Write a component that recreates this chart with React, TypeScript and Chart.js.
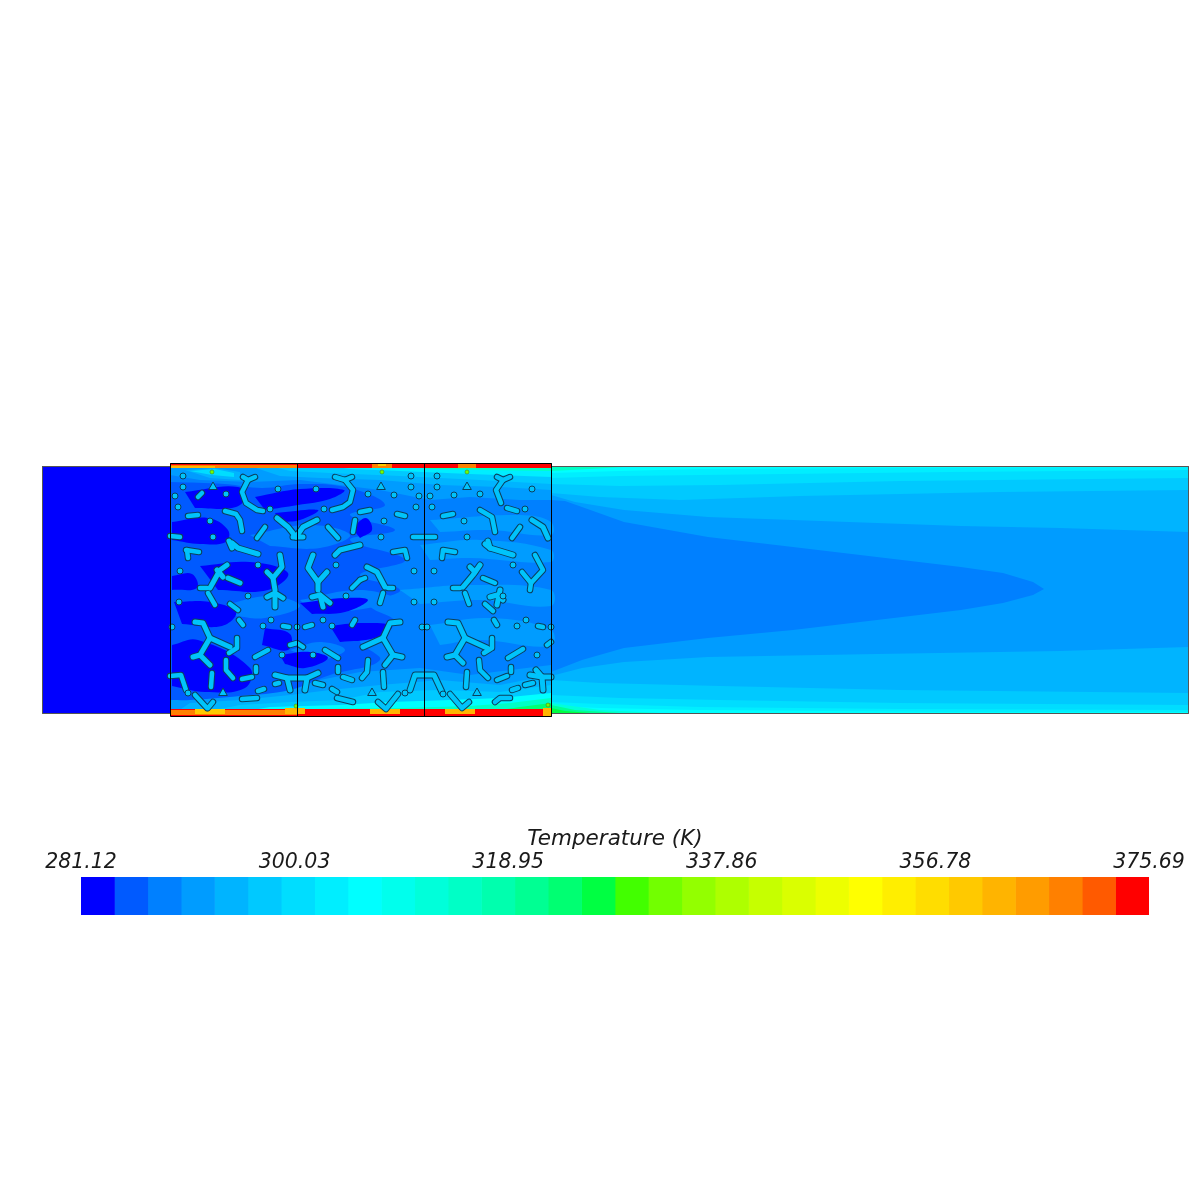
import React, { useEffect, useRef } from "react";
import { Chart, registerables } from "chart.js";

Chart.register(...registerables);

// 32 contour levels of the legend
const levelColors = [
  "#0000ff", "#005aff", "#0080ff", "#009cff", "#00b4ff", "#00c9ff", "#00ddff", "#00eeff",
  "#00ffff", "#00ffed", "#00ffda", "#00ffc6", "#00ffae", "#00ff93", "#00ff72", "#00ff42",
  "#42ff00", "#72ff00", "#93ff00", "#aeff00", "#c6ff00", "#daff00", "#edff00", "#ffff00",
  "#ffee00", "#ffdd00", "#ffc900", "#ffb400", "#ff9c00", "#ff8000", "#ff5a00", "#ff0000",
];
const levelEdges = [
  281.12, 284.08, 287.03, 289.99, 292.94, 295.9, 298.85, 301.81, 304.76, 307.72, 310.67,
  313.63, 316.58, 319.54, 322.49, 325.45, 328.41, 331.36, 334.32, 337.27, 340.23, 343.18,
  346.14, 349.09, 352.05, 355.0, 357.96, 360.91, 363.87, 366.82, 369.78, 372.73, 375.69,
];
const legendTicks = [281.12, 300.03, 318.95, 337.86, 356.78, 375.69];
const legendTitle = "Temperature (K)";

type Pts = number[][];
type Band = [number, Pts];

// Contours: [level, outline], back to front
const inletBands: Band[] = [[0, [[42, 466], [170, 466], [170, 713], [42, 713]]]];

const outletBands: Band[] = [
  [8, [[551, 466], [1188, 466], [1188, 713], [551, 713]]],
  [7, [[551, 473], [620, 471], [700, 469], [900, 468], [1188, 467], [1188, 712], [950, 712], [700, 710], [600, 708], [551, 706]]],
  [6, [[551, 478], [620, 476], [700, 475], [950, 472], [1188, 470], [1188, 710], [900, 709], [700, 707], [600, 704], [551, 702]]],
  [5, [[551, 484], [620, 486], [720, 485], [900, 481], [1188, 478], [1188, 705], [900, 703], [720, 700], [620, 698], [551, 695]]],
  [4, [[551, 493], [600, 497], [680, 500], [800, 496], [1000, 492], [1188, 490], [1188, 693], [900, 690], [720, 686], [600, 683], [551, 680]]],
  [3, [[551, 495], [575, 502], [624, 510], [708, 517], [793, 520], [877, 523], [961, 526], [1060, 528], [1188, 532], [1188, 647], [1060, 651], [877, 654], [708, 657], [624, 662], [582, 668], [551, 676]]],
  [2, [[551, 500], [565, 501], [582, 507], [624, 522], [708, 537], [793, 547], [877, 557], [961, 567], [1003, 573], [1033, 582], [1044, 589], [1033, 595], [1003, 603], [961, 610], [877, 620], [793, 630], [708, 638], [624, 648], [582, 660], [551, 672]]],
  [11, [[551, 466], [640, 466], [590, 469], [551, 471]]],
  [10, [[551, 713], [660, 713], [600, 710], [551, 703]]],
  [13, [[551, 713], [620, 713], [575, 710], [551, 705]]],
  [15, [[551, 713], [590, 713], [565, 711], [551, 708]]],
];

const porousWalls: Band[] = [
  [2, [[170, 466], [551, 466], [551, 713], [170, 713]]],
  // top wall layers
  [3, [[170, 466], [551, 466], [551, 500], [520, 500], [470, 497], [430, 500], [380, 490], [340, 485], [300, 480], [250, 482], [200, 480], [170, 475]]],
  [4, [[250, 466], [551, 466], [551, 490], [500, 487], [440, 485], [380, 480], [320, 478], [280, 476]]],
  [4, [[185, 470], [215, 468], [240, 472], [240, 480], [210, 478]]],
  [5, [[270, 466], [551, 466], [551, 484], [480, 480], [400, 476], [330, 473], [290, 471]]],
  [6, [[190, 471], [215, 469], [234, 473], [234, 477], [212, 475]]],
  [7, [[330, 466], [551, 466], [551, 477], [470, 474], [400, 471], [350, 469]]],
  [11, [[400, 466], [551, 466], [551, 471], [480, 470], [430, 469]]],
  // bottom wall layers
  [3, [[170, 713], [170, 700], [220, 697], [270, 690], [320, 680], [360, 672], [420, 668], [470, 675], [551, 665], [551, 713]]],
  [4, [[175, 713], [190, 703], [240, 700], [290, 695], [330, 690], [380, 685], [440, 680], [500, 685], [551, 675], [551, 713]]],
  [5, [[200, 713], [240, 705], [290, 702], [340, 700], [380, 692], [440, 690], [500, 692], [551, 685], [551, 713]]],
  [8, [[235, 713], [270, 707], [340, 705], [390, 702], [450, 700], [500, 698], [551, 693], [551, 713]]],
  [11, [[280, 713], [310, 709], [400, 708], [470, 706], [510, 703], [551, 698], [551, 713]]],
  [14, [[480, 713], [520, 707], [551, 703], [551, 713]]],
];

const porousPatches: Band[] = [
  // light wakes in the downstream third
  [3, [[430, 520], [520, 515], [551, 522], [551, 535], [490, 530], [440, 532]]],
  [3, [[420, 545], [480, 540], [551, 550], [551, 562], [470, 558], [430, 560]]],
  [3, [[400, 590], [470, 585], [551, 590], [551, 606], [480, 600], [420, 604]]],
  [3, [[430, 625], [490, 618], [551, 630], [551, 646], [480, 640], [440, 645]]],
  // cold core in the upstream half
  [1, [[171, 482], [225, 484], [262, 488], [300, 484], [350, 488], [385, 505], [350, 515], [395, 530], [350, 540], [405, 560], [360, 575], [400, 590], [370, 605], [395, 622], [360, 640], [380, 660], [330, 675], [290, 690], [240, 696], [190, 700], [171, 700]]],
  // warmer wakes inside the cold core
  [2, [[250, 535], [310, 525], [350, 535], [320, 548], [270, 546]]],
  [2, [[300, 600], [360, 590], [395, 600], [340, 612], [310, 610]]],
  [2, [[290, 650], [320, 642], [345, 650], [320, 662]]],
  [2, [[225, 605], [270, 596], [300, 606], [265, 618], [235, 616]]],
  // coldest patches
  [0, [[185, 492], [238, 487], [244, 500], [232, 508], [195, 508]]],
  [0, [[255, 497], [300, 489], [344, 490], [330, 499], [298, 505], [265, 510]]],
  [0, [[172, 522], [208, 518], [228, 530], [226, 542], [200, 544], [172, 540]]],
  [0, [[275, 513], [318, 510], [300, 520], [280, 522]]],
  [0, [[200, 566], [250, 562], [288, 573], [268, 590], [218, 590]]],
  [0, [[172, 576], [192, 574], [197, 588], [172, 590]]],
  [0, [[174, 602], [210, 602], [236, 612], [222, 626], [182, 624]]],
  [0, [[172, 645], [198, 640], [250, 668], [245, 688], [205, 692], [172, 686]]],
  [0, [[300, 603], [345, 598], [368, 600], [345, 612], [312, 614]]],
  [0, [[330, 626], [360, 623], [392, 626], [375, 638], [340, 642]]],
  [0, [[265, 628], [290, 634], [288, 650], [262, 645]]],
  [0, [[280, 655], [310, 652], [328, 658], [305, 668], [285, 664]]],
  [0, [[352, 528], [366, 518], [372, 530], [360, 538]]],
];

// Hot wall strips: top then bottom
const wallBands: Band[] = [
  [31, [[170, 463], [551, 463], [551, 468], [170, 468]]],
  [29, [[170, 465], [297, 465], [297, 468], [170, 468]]],
  [27, [[170, 466], [215, 466], [215, 468], [170, 468]]],
  [29, [[372, 463], [392, 463], [392, 468], [372, 468]]],
  [26, [[378, 463], [386, 463], [386, 466], [378, 466]]],
  [29, [[458, 464], [476, 464], [476, 468], [458, 468]]],
  [31, [[170, 709], [551, 709], [551, 716], [170, 716]]],
  [29, [[170, 710], [297, 710], [297, 715], [170, 715]]],
  [26, [[195, 709], [225, 709], [225, 714], [195, 714]]],
  [27, [[285, 708], [305, 708], [305, 714], [285, 714]]],
  [27, [[370, 709], [400, 709], [400, 714], [370, 714]]],
  [27, [[445, 709], [475, 709], [475, 714], [445, 714]]],
  [27, [[543, 708], [551, 708], [551, 716], [543, 716]]],
];

// Strand centre lines
const strandsWide: Pts[] = [
  [[232, 543], [238, 548], [258, 554]],
  [[229, 541], [232, 548]],
  [[277, 518], [288, 527], [296, 537], [303, 527], [317, 520]],
  [[293, 537], [303, 537]],
  [[280, 555], [282, 567], [273, 578], [267, 572]],
  [[273, 578], [275, 590]],
  [[313, 555], [308, 568], [318, 582], [327, 572]],
  [[318, 582], [318, 590]],
  [[335, 555], [340, 550], [360, 545]],
  [[210, 588], [220, 570], [227, 565]],
  [[217, 570], [223, 577]],
  [[228, 578], [240, 583]],
  [[195, 622], [203, 623], [210, 638], [230, 647]],
  [[210, 638], [200, 655], [193, 657]],
  [[200, 655], [210, 665]],
  [[275, 675], [287, 678], [307, 678], [318, 673]],
  [[287, 678], [290, 690]],
  [[307, 678], [305, 690]],
  [[267, 597], [275, 593], [283, 598]],
  [[275, 593], [275, 607]],
  [[312, 597], [320, 595], [330, 603]],
  [[320, 595], [323, 607]],
  [[367, 567], [377, 572], [385, 587]],
  [[463, 587], [473, 575], [480, 565]],
  [[470, 567], [475, 572]],
  [[485, 544], [490, 548], [513, 555]],
  [[488, 541], [490, 548]],
  [[532, 520], [543, 527], [548, 538]],
  [[400, 622], [390, 623], [383, 638], [363, 647]],
  [[383, 638], [393, 655], [402, 657]],
  [[393, 655], [385, 665]],
  [[448, 622], [458, 623], [465, 638], [487, 648]],
  [[465, 638], [455, 655], [447, 657]],
  [[455, 655], [463, 663]],
  [[410, 690], [415, 675], [434, 675], [442, 692]],
  [[490, 597], [497, 595], [503, 600]],
  [[500, 590], [497, 605]],
  [[530, 675], [542, 677], [551, 677]],
  [[542, 677], [543, 690]],
  [[536, 670], [542, 677]],
];
const strandsNarrow: Pts[] = [
  [[243, 477], [248, 480], [255, 477]],
  [[248, 480], [242, 492], [246, 503], [257, 510], [263, 511]],
  [[335, 477], [345, 480], [352, 477]],
  [[345, 480], [353, 490], [350, 502], [343, 507], [332, 510]],
  [[188, 516], [198, 515]],
  [[225, 511], [236, 514], [240, 520], [242, 531]],
  [[170, 536], [180, 537]],
  [[186, 550], [199, 552]],
  [[188, 558], [187, 550]],
  [[265, 527], [257, 538]],
  [[328, 527], [338, 538]],
  [[353, 532], [355, 520]],
  [[352, 588], [360, 580]],
  [[200, 588], [207, 588]],
  [[198, 497], [202, 493]],
  [[208, 593], [215, 605]],
  [[230, 604], [238, 610]],
  [[239, 620], [243, 625]],
  [[237, 638], [237, 648], [229, 653]],
  [[283, 626], [289, 627]],
  [[305, 627], [312, 625]],
  [[352, 625], [355, 620]],
  [[290, 645], [297, 643], [303, 647]],
  [[255, 657], [268, 650]],
  [[325, 650], [338, 658]],
  [[226, 660], [226, 670], [233, 678]],
  [[256, 667], [256, 672]],
  [[338, 667], [338, 672]],
  [[212, 673], [211, 687]],
  [[170, 676], [181, 675], [186, 690]],
  [[195, 695], [207, 708]],
  [[213, 702], [208, 708]],
  [[242, 679], [252, 677]],
  [[275, 684], [279, 683]],
  [[315, 683], [323, 685]],
  [[343, 677], [352, 680]],
  [[332, 689], [337, 692]],
  [[258, 691], [264, 689]],
  [[242, 699], [257, 698]],
  [[337, 698], [353, 702]],
  [[360, 512], [370, 510]],
  [[397, 514], [405, 516]],
  [[443, 516], [453, 514]],
  [[413, 537], [435, 537]],
  [[393, 552], [405, 550], [407, 558]],
  [[442, 558], [443, 550], [455, 552]],
  [[360, 580], [365, 578]],
  [[483, 578], [495, 583]],
  [[388, 588], [393, 588]],
  [[453, 588], [460, 588]],
  [[480, 510], [492, 517], [495, 532]],
  [[497, 477], [503, 480], [510, 477]],
  [[503, 480], [496, 490], [501, 503]],
  [[507, 508], [517, 511]],
  [[520, 527], [512, 538]],
  [[535, 555], [543, 570], [531, 583], [522, 572]],
  [[531, 583], [530, 590]],
  [[383, 593], [380, 603]],
  [[465, 593], [469, 604]],
  [[485, 604], [493, 611]],
  [[494, 620], [497, 625]],
  [[538, 626], [543, 627]],
  [[508, 658], [523, 649]],
  [[511, 667], [511, 672]],
  [[368, 660], [367, 672], [362, 678]],
  [[383, 672], [384, 687]],
  [[479, 660], [480, 670], [488, 678]],
  [[467, 672], [466, 687]],
  [[378, 702], [386, 709], [398, 694]],
  [[450, 694], [462, 708], [469, 702]],
  [[492, 638], [492, 648], [484, 653]],
  [[497, 680], [507, 676]],
  [[512, 690], [518, 688]],
  [[525, 685], [533, 683]],
  [[495, 702], [500, 698], [510, 698]],
  [[547, 645], [551, 642]],
];
const strandDots: Pts = [
  [183, 476], [183, 487], [175, 496], [178, 507], [210, 521], [213, 537], [180, 571], [258, 565],
  [270, 509], [278, 489], [316, 489], [324, 509], [336, 565], [226, 494], [179, 602], [248, 596],
  [172, 627], [271, 620], [263, 626], [297, 627], [323, 620], [332, 626], [346, 596], [282, 655],
  [313, 655], [188, 693], [411, 476], [437, 476], [411, 487], [437, 487], [368, 494], [394, 495],
  [419, 496], [430, 496], [454, 495], [480, 494], [416, 507], [432, 507], [384, 521], [464, 521],
  [381, 537], [467, 537], [414, 571], [434, 571], [525, 509], [532, 489], [513, 565], [414, 602],
  [434, 602], [503, 596], [517, 626], [526, 620], [422, 627], [427, 627], [537, 655], [405, 693],
  [443, 694], [551, 627],
];
const hotDots: Pts = [[212, 472], [382, 472], [467, 472], [296, 706], [548, 705]];
const strandTriangles: Pts = [[213, 487], [223, 693], [381, 487], [467, 487], [372, 693], [477, 693]];

// Block outlines
const blockOutline: Pts = [[170.5, 463.5], [551.5, 463.5], [551.5, 716.5], [170.5, 716.5], [170.5, 463.5]];
const blockDividers: Pts[] = [
  [[297.5, 463.5], [297.5, 716.5]],
  [[424.5, 463.5], [424.5, 716.5]],
];
const channelOutline: Pts[] = [
  [[170.5, 466.5], [42.5, 466.5], [42.5, 713.5], [170.5, 713.5]],
  [[551.5, 466.5], [1188.5, 466.5], [1188.5, 713.5], [551.5, 713.5]],
];

const toXY = (pts: Pts) => pts.map(([x, y]) => ({ x, y }));

function buildDatasets() {
  const ds: any[] = [];
  const base = { type: "scatter", showLine: true, pointRadius: 0, tension: 0 };
  const fillBands = (list: Band[], tension: number) =>
    list.forEach(([lvl, pts]) => {
      ds.push({ ...base, tension, data: toXY(pts), borderWidth: 0, borderColor: "transparent", backgroundColor: levelColors[lvl], fill: "shape" });
    });
  fillBands(inletBands, 0);
  fillBands(outletBands, 0);
  fillBands(porousWalls, 0);
  fillBands(porousPatches, 0.4);
  fillBands(wallBands, 0);
  const strokeOf = (list: Pts[], width: number, color: string) =>
    list.forEach((pts) =>
      ds.push({ ...base, data: toXY(pts), fill: false, borderColor: color, borderWidth: width, borderCapStyle: "round", borderJoinStyle: "round" })
    );
  const edge = "#0b3f5c";
  const inside = "#00c4fb";
  strokeOf(strandsWide, 7, edge);
  strokeOf(strandsNarrow, 6.5, edge);
  strokeOf(strandsWide, 5, inside);
  strokeOf(strandsNarrow, 4.5, inside);
  ds.push({ type: "scatter", showLine: false, data: toXY(strandDots), pointRadius: 3, pointBorderWidth: 1, pointBackgroundColor: inside, pointBorderColor: edge });
  ds.push({ type: "scatter", showLine: false, data: toXY(hotDots), pointRadius: 2, pointBorderWidth: 0.5, pointBackgroundColor: levelColors[17], pointBorderColor: "#4f6b1a" });
  ds.push({ type: "scatter", showLine: false, data: toXY(strandTriangles), pointStyle: "triangle", pointRadius: 5, pointBorderWidth: 1, pointBackgroundColor: inside, pointBorderColor: edge });
  channelOutline.forEach((pts) => ds.push({ ...base, data: toXY(pts), fill: false, borderColor: "#555", borderWidth: 1 }));
  [blockOutline, ...blockDividers].forEach((pts) => ds.push({ ...base, data: toXY(pts), fill: false, borderColor: "#000", borderWidth: 1 }));
  return ds.reverse(); // Chart.js paints the first dataset last
}

const tickFont = { family: "'DejaVu Sans'", size: 20.5, style: "oblique" as const, lineHeight: 1 };
const titleFont = { family: "'DejaVu Sans'", size: 21.5, style: "oblique" as const, lineHeight: 1 };

export default function App() {
  const fieldRef = useRef<HTMLCanvasElement>(null);
  const barRef = useRef<HTMLCanvasElement>(null);
  useEffect(() => {
    const field = new Chart(fieldRef.current!, {
      type: "scatter",
      data: { datasets: buildDatasets() },
      options: {
        animation: false,
        responsive: false,
        layout: { padding: 0, autoPadding: false },
        plugins: { legend: { display: false }, tooltip: { enabled: false } },
        scales: {
          x: { type: "linear", min: 0, max: 1200, display: false },
          y: { type: "linear", min: 0, max: 1200, reverse: true, display: false },
        },
      },
    } as any);
    const bar = new Chart(barRef.current!, {
      type: "bar",
      data: {
        labels: [""],
        datasets: levelColors.map((c, i) => ({
          data: [[levelEdges[i], levelEdges[i + 1]]],
          backgroundColor: c,
          borderWidth: 0,
          grouped: false,
          barPercentage: 1,
          categoryPercentage: 1,
        })),
      },
      options: {
        animation: false,
        responsive: false,
        indexAxis: "y",
        layout: { padding: { left: 81, right: 51, top: 209, bottom: 5 }, autoPadding: false },
        plugins: { legend: { display: false }, tooltip: { enabled: false } },
        scales: {
          y: { display: false },
          x: {
            type: "linear",
            position: "top",
            min: levelEdges[0],
            max: levelEdges[levelEdges.length - 1],
            border: { display: false },
            grid: { display: false, drawTicks: false },
            afterBuildTicks: (axis: any) => {
              axis.ticks = legendTicks.map((value) => ({ value }));
            },
            afterFit: (axis: any) => {
              axis.height = 48;
            },
            ticks: {
              autoSkip: false,
              maxRotation: 0,
              padding: 4,
              color: "#1a1a1a",
              font: tickFont,
              callback: (v: any) => Number(v).toFixed(2),
            },
            title: { display: true, text: legendTitle, color: "#1a1a1a", font: titleFont, padding: { top: 0, bottom: 0 } },
          },
        },
      },
    } as any);
    return () => {
      field.destroy();
      bar.destroy();
    };
  }, []);
  return (
    <div style={{ position: "fixed", left: 0, top: 0, width: 1200, height: 1200, background: "#fff" }}>
      <canvas ref={fieldRef} width={1200} height={1200} style={{ position: "absolute", left: 0, top: 0 }} />
      <canvas ref={barRef} width={1200} height={300} style={{ position: "absolute", left: 0, top: 620, pointerEvents: "none" }} />
    </div>
  );
}
